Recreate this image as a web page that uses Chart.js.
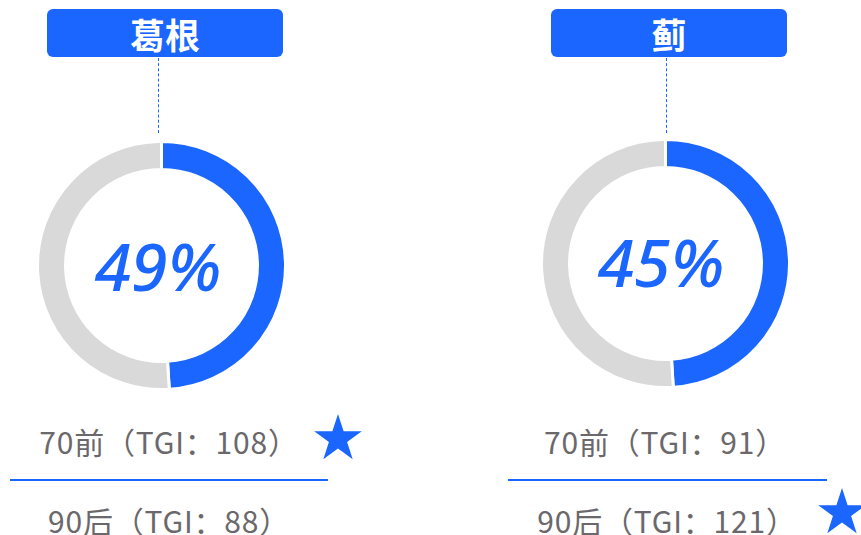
<!DOCTYPE html>
<html>
<head>
<meta charset="utf-8">
<script src="https://cdn.jsdelivr.net/npm/chart.js@4"></script>
<style>
  html, body { margin: 0; padding: 0; background: #ffffff; }
  body { width: 861px; height: 535px; position: relative; overflow: hidden; font-family: "Noto Sans CJK SC", "Noto Sans", sans-serif; }
  .abs { position: absolute; }
  .titlebox { background: #1a66ff; border-radius: 6px; color: #fff; font-weight: 700; font-size: 35px; text-align: center; display: flex; align-items: center; justify-content: center; }
  .dash { border-left: 1px dashed #1a66ff; width: 0; }
  .pct { color: #1a66ff; font-family: "Noto Sans", sans-serif; font-style: italic; font-weight: 500; font-size: 66px; line-height: 1; white-space: nowrap; transform: translate(-50%, -50%); }
  .row { color: #6b686c; font-size: 30px; letter-spacing: 0.8px; line-height: 1; white-space: nowrap; transform: translate(-50%, -50%); }
  .sep { background: #1a66ff; height: 2px; }
  canvas { position: absolute; }
</style>
</head>
<body>
<script>
// ---- data ----
const categories = ['葛根', '蓟'];
const shareLabels = [49, 45];     // percentage printed in the centre
const arcShares = [49, 49];       // arc share as drawn in the picture
const groupLabels = ['70前', '90后'];
const tgi70 = [108, 91];
const tgi90 = [88, 121];

// ---- layout (positions only) ----
const layout = [
  { cx: 161, cy: 265, box: [47, 9, 236, 48], dashX: 158, pctX: 158, pctY: 265, textX: [169, 169], rowY: [441, 520], sep: [10, 479, 318], starOff: [169, -2] },
  { cx: 665.5, cy: 263, box: [551, 9, 236, 48], dashX: 666, pctX: 661, pctY: 261, textX: [665, 667], rowY: [441, 520], sep: [508, 479, 319], starOff: [175, -7] }
];
const BLUE = '#1a66ff', GREY = '#d9d9d9';
const SIZE = 251;

function el(cls, css, text) {
  const d = document.createElement('div');
  d.className = 'abs ' + cls;
  Object.assign(d.style, css);
  if (text !== undefined) d.textContent = text;
  document.body.appendChild(d);
  return d;
}
function star(cx, cy, R) {
  const ns = 'http://www.w3.org/2000/svg';
  const svg = document.createElementNS(ns, 'svg');
  svg.setAttribute('width', 2 * R + 2);
  svg.setAttribute('height', 2 * R + 2);
  svg.style.position = 'absolute';
  svg.style.left = (cx - R - 1) + 'px';
  svg.style.top = (cy - R - 1) + 'px';
  const pts = [];
  const r = R * 0.382;
  for (let k = 0; k < 10; k++) {
    const a = -Math.PI / 2 + k * Math.PI / 5;
    const rr = k % 2 === 0 ? R : r;
    pts.push((R + 1 + rr * Math.cos(a)).toFixed(2) + ',' + (R + 1 + rr * Math.sin(a)).toFixed(2));
  }
  const p = document.createElementNS(ns, 'polygon');
  p.setAttribute('points', pts.join(' '));
  p.setAttribute('fill', BLUE);
  svg.appendChild(p);
  document.body.appendChild(svg);
}

categories.forEach((name, i) => {
  const L = layout[i];
  el('titlebox', { left: L.box[0] + 'px', top: L.box[1] + 'px', width: L.box[2] + 'px', height: L.box[3] + 'px' }, name);
  el('dash', { left: L.dashX + 'px', top: (L.box[1] + L.box[3] + 1) + 'px', height: '75px' });
  const c = document.createElement('canvas');
  c.width = SIZE; c.height = SIZE;
  c.style.left = (L.cx - SIZE / 2) + 'px';
  c.style.top = (L.cy - SIZE / 2) + 'px';
  c.style.width = SIZE + 'px'; c.style.height = SIZE + 'px';
  document.body.appendChild(c);
  new Chart(c, {
    type: 'doughnut',
    data: {
      labels: [name, ''],
      datasets: [{
        data: [arcShares[i], 100 - arcShares[i]],
        backgroundColor: [BLUE, GREY],
        borderColor: '#ffffff',
        borderWidth: 3,
        hoverOffset: 0
      }]
    },
    options: {
      responsive: false,
      animation: false,
      cutout: '77.4%',
      layout: { padding: 0 },
      plugins: { legend: { display: false }, tooltip: { enabled: false } },
      events: []
    }
  });
  el('pct', { left: L.pctX + 'px', top: L.pctY + 'px' }, shareLabels[i] + '%');
  const vals = [tgi70[i], tgi90[i]];
  vals.forEach((v, j) => {
    el('row', { left: L.textX[j] + 'px', top: L.rowY[j] + 'px' }, groupLabels[j] + '（TGI：' + v + '）');
  });
  el('sep', { left: L.sep[0] + 'px', top: L.sep[1] + 'px', width: L.sep[2] + 'px' });
  const best = vals[0] >= vals[1] ? 0 : 1;
  star(L.textX[best] + L.starOff[0], L.rowY[best] + L.starOff[1], 25);
});
</script>
</body>
</html>
